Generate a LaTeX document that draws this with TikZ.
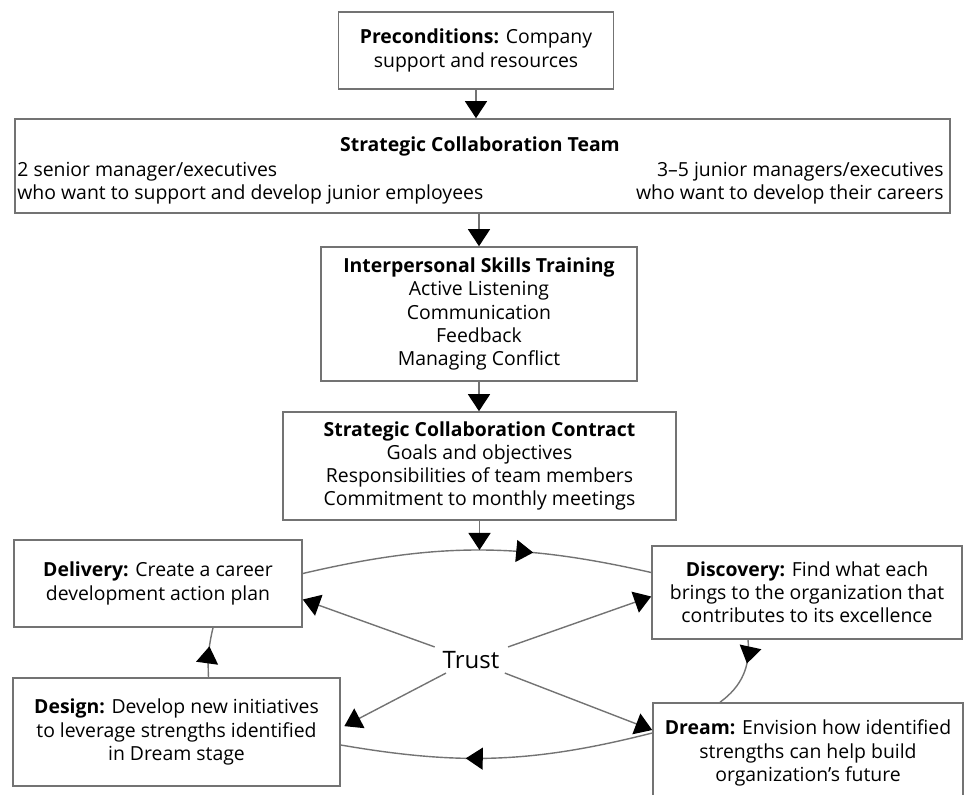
\documentclass[tikz,border=0pt]{standalone}
\usepackage{fontspec}
\setmainfont{Open Sans}
\usetikzlibrary{arrows.meta, decorations.markings, calc}
\definecolor{linegray}{gray}{0.45}

\begin{document}
\begin{tikzpicture}[
  x=0.5pt, y=-0.5pt,
  font=\fontsize{9.7}{11.6}\selectfont,
  box/.style={
    draw=linegray, line width=0.8pt, align=center, inner sep=2pt
  },
  teamtxt/.style={align=#1, inner sep=0pt},
  link/.style={linegray, line width=0.7pt},
  arr/.style={-{Triangle[length=8.5pt, width=11pt, color=black]}, linegray, line width=0.7pt},
  midarr/.style={postaction={decorate}, decoration={markings,
    mark=at position #1 with {\arrow{Triangle[length=8.5pt, width=11pt, color=black]}}}},
]
\useasboundingbox (0,0) rectangle (965,794);
\clip (0,0) rectangle (965,794);

%% ---- Preconditions and team ----
\node[box, minimum width=137.5pt, minimum height=38.5pt] (pre) at (476,50.5)
  {\textbf{Preconditions:} Company\\support and resources};
\node[box, minimum width=467.5pt, minimum height=47pt] (team) at (482.5,166) {};
\node[font=\fontsize{9.7}{11.6}\selectfont\bfseries, anchor=base] (teamtitle) at (480,151)
  {Strategic Collaboration Team};
\node[teamtxt=left, anchor=west] (senior) at (17,183)
  {2 senior manager/executives\\who want to support and develop junior employees};
\node[teamtxt=right, anchor=east] (junior) at (944,183)
  {3--5 junior managers/executives\\who want to develop their careers};

%% ---- Training and contract ----
\node[box, minimum width=158pt, minimum height=67pt] (training) at (479,314)
  {\textbf{Interpersonal Skills Training}\\Active Listening\\Communication\\Feedback\\Managing Conflict};
\node[box, minimum width=196.5pt, minimum height=54pt] (contract) at (479.5,466)
  {\textbf{Strategic Collaboration Contract}\\Goals and objectives\\Responsibilities of team members\\Commitment to monthly meetings};

\draw[arr] (pre.south) -- (pre.south |- team.north);
\draw[arr] (training.north |- team.south) -- (training.north);
\draw[arr] (training.south) -- (training.south |- contract.north);

%% ---- 4-D cycle ----
\node[box, minimum width=144pt, minimum height=43.5pt] (delivery) at (158,583.5)
  {\textbf{Delivery:} Create a career\\development action plan};
\node[box, minimum width=155pt, minimum height=46.5pt] (discovery) at (807,592.5)
  {\textbf{Discovery:} Find what each\\brings to the organization that\\contributes to its excellence};
\node[box, minimum width=163.5pt, minimum height=54pt] (design) at (176.5,732)
  {\textbf{Design:} Develop new initiatives\\to leverage strengths identified\\in Dream stage};
\node[box, minimum width=155pt, minimum height=50pt] (dream) at (808,753)
  {\textbf{Dream:} Envision how identified\\strengths can help build\\organization’s future};
\node[font=\fontsize{12}{14}\selectfont, inner xsep=8pt, inner ysep=2pt] (trust) at (471,660) {Trust};

\draw[link, midarr=0.66] ($(delivery.east)+(0,-10)$) to[bend left=13]
  coordinate[pos=0.5] (arctop) ($(discovery.west)+(0,-20)$);
\draw[arr] (contract.south) -- (contract.south |- arctop);
\draw[link, midarr=0.33] ($(discovery.south)+(-59,0)$) to[bend left=30]
  ($(dream.north)+(-88,0)$);
\draw[link, midarr=0.6] ($(dream.west)+(0,-20)$) to[bend left=12]
  ($(design.east)+(0,13)$);
\draw[link, midarr=0.62] ($(design.north)+(32,0)$) to[bend left=8]
  ($(delivery.south)+(55,0)$);

%% ---- Trust spokes ----
\draw[arr] (trust) -- ($(delivery.east)+(0,16)$);
\draw[arr] (trust) -- ($(discovery.west)+(0,4)$);
\draw[arr, shorten >=2pt] (trust) -- ($(design.east)+(0,-4)$);
\draw[arr] (trust) -- ($(dream.west)+(0,-23)$);

\end{tikzpicture}
\end{document}
